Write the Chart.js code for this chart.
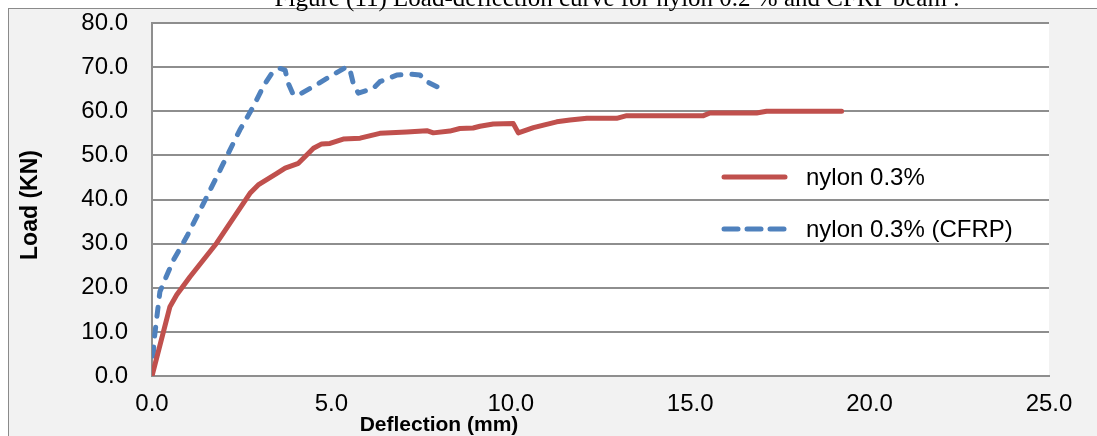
<!DOCTYPE html>
<html>
<head>
<meta charset="utf-8">
<script src="https://cdn.jsdelivr.net/npm/chart.js@4"></script>
<style>
    html, body { margin: 0; padding: 0; background: #fff; overflow: hidden; }
    #wrap { position: relative; width: 1097px; height: 436px; }
    #figTitle {
        position: absolute; left: 617px; top: -15px; transform: translateX(-50%);
        font: 25px 'Liberation Serif', 'Times New Roman', serif; line-height: 25px;
        white-space: nowrap; color: #000; z-index: 2;
    }
    canvas { display: block; }
</style>
</head>
<body>
<div id="wrap">
    <div id="figTitle">Figure (11) Load-deflection curve for nylon 0.2 % and CFRP beam .</div>
    <canvas id="chart" width="1097" height="436"></canvas>
</div>
<script>
// ── Data ───────────────────────────────────────────────────────────────────

const seriesNames = ['nylon 0.3%', 'nylon 0.3% (CFRP)'];

const deflRed = [0, 0.5, 0.69, 1.06, 1.8, 2.73, 2.96, 3.48, 3.71, 4.08, 4.5, 4.73, 4.96, 5.33, 5.8,
                 6.35, 7.1, 7.66, 7.84, 8.3, 8.58, 8.95, 9.14, 9.51, 10.07, 10.21, 10.63, 11.28, 11.65,
                 12.12, 12.95, 13.23, 15.37, 15.55, 16.85, 17.13, 19.22];
const loadRed = [0, 15.7, 18.4, 22.5, 30.1, 41.4, 43.3, 45.9, 47.1, 48.2, 51.6, 52.6, 52.7, 53.7, 53.9,
                 55.0, 55.3, 55.6, 55.1, 55.5, 56.1, 56.2, 56.6, 57.1, 57.2, 55.1, 56.3, 57.6, 58.0,
                 58.4, 58.4, 59.0, 59.0, 59.6, 59.6, 60.0, 60.0];

const deflBlue = [0, 0.06, 0.22, 0.36, 0.6, 0.97, 1.39, 1.9, 2.17, 2.45, 2.82, 3.1, 3.34, 3.57, 3.71,
                  3.8, 3.94, 4.17, 4.5, 5.05, 5.43, 5.52, 5.61, 5.75, 6.17, 6.35, 6.82, 7.19, 7.47,
                  7.66, 8.03];
const loadBlue = [0, 8.2, 19.1, 21.8, 26.3, 31.6, 38.4, 46.7, 51.2, 55.8, 61.0, 65.6, 68.6, 69.7, 69.3,
                  66.3, 63.7, 64.1, 65.6, 68.3, 70.1, 69.3, 66.3, 64.1, 65.2, 66.7, 68.2, 68.4, 68.2,
                  66.7, 65.2];

const xTicks = [0, 5, 10, 15, 20, 25];
const yTicks = [0, 10, 20, 30, 40, 50, 60, 70, 80];

const RED  = '#C0504D';
const BLUE = '#4F81BD';
const GRID = '#8e8e8e';

const toPoints = (xs, ys) => xs.map((x, i) => ({ x, y: ys[i] }));

// ── Plugins: frame, axis titles, legend ───────────────────────────────────

const framePlugin = {
    id: 'frame',
    beforeDraw(chart) {
        const { ctx, chartArea: a } = chart;
        ctx.save();
        ctx.fillStyle = '#fff';
        ctx.fillRect(0, 0, chart.width, chart.height);
        ctx.fillStyle = '#f2f2f2';
        ctx.fillRect(8, 8, chart.width, chart.height);
        ctx.strokeStyle = '#8a8a8a';
        ctx.lineWidth = 1;
        ctx.strokeRect(8.5, 8.5, chart.width + 10, chart.height + 10);
        ctx.fillStyle = '#fff';
        ctx.fillRect(a.left, a.top, a.right - a.left, a.bottom - a.top);
        ctx.restore();
    },
};

const labelsPlugin = {
    id: 'labels',
    afterDraw(chart) {
        const { ctx } = chart;
        ctx.save();
        ctx.fillStyle = '#000';
        ctx.font = "bold 21px 'Liberation Sans', Arial, sans-serif";
        ctx.textAlign = 'center';
        ctx.textBaseline = 'alphabetic';
        ctx.fillText('Deflection (mm)', 439, 431);

        ctx.translate(37, 205);
        ctx.rotate(-Math.PI / 2);
        ctx.font = "bold 23px 'Liberation Sans', Arial, sans-serif";
        ctx.fillText('Load (KN)', 0, 0);
        ctx.restore();

        // legend
        ctx.save();
        ctx.lineWidth = 5;
        ctx.lineCap = 'round';
        ctx.strokeStyle = RED;
        ctx.beginPath();
        ctx.moveTo(724, 177);
        ctx.lineTo(785, 177);
        ctx.stroke();
        ctx.strokeStyle = BLUE;
        for (let i = 0; i < 3; i++) {
            ctx.beginPath();
            ctx.moveTo(724 + i * 23, 229);
            ctx.lineTo(738 + i * 23, 229);
            ctx.stroke();
        }
        ctx.fillStyle = '#000';
        ctx.font = "24px 'Liberation Sans', Arial, sans-serif";
        ctx.textAlign = 'left';
        ctx.textBaseline = 'middle';
        ctx.fillText(seriesNames[0], 806, 178);
        ctx.fillText(seriesNames[1], 806, 230);
        ctx.restore();
    },
};

// ── Chart ──────────────────────────────────────────────────────────────────

new Chart(document.getElementById('chart').getContext('2d'), {
    type: 'scatter',
    data: {
        datasets: [
            {
                label: seriesNames[0],
                data: toPoints(deflRed, loadRed),
                showLine: true,
                borderColor: RED,
                borderWidth: 5,
                pointRadius: 0,
                tension: 0,
                borderJoinStyle: 'round',
                borderCapStyle: 'round',
            },
            {
                label: seriesNames[1],
                data: toPoints(deflBlue, loadBlue),
                showLine: true,
                borderColor: BLUE,
                borderWidth: 5,
                borderDash: [9, 11],
                pointRadius: 0,
                tension: 0,
                borderJoinStyle: 'round',
                borderCapStyle: 'round',
            },
        ],
    },
    options: {
        responsive: false,
        animation: false,
        layout: { padding: { left: 0, right: 48, top: 23, bottom: 0 } },
        plugins: {
            legend: { display: false },
            tooltip: { enabled: false },
        },
        scales: {
            x: {
                type: 'linear',
                min: xTicks[0],
                max: xTicks[xTicks.length - 1],
                afterBuildTicks: s => { s.ticks = xTicks.map(v => ({ value: v })); },
                afterFit: s => { s.height = 60; s.paddingRight = 0; },
                grid: { display: false, drawTicks: false },
                border: { display: true, color: GRID, width: 2 },
                ticks: {
                    color: '#000',
                    padding: 14,
                    maxRotation: 0,
                    font: { family: "'Liberation Sans', Arial, sans-serif", size: 24 },
                    callback: v => Number(v).toFixed(1),
                },
            },
            y: {
                min: yTicks[0],
                max: yTicks[yTicks.length - 1],
                afterBuildTicks: s => { s.ticks = yTicks.map(v => ({ value: v })); },
                afterFit: s => { s.width = 152; s.paddingTop = 0; s.paddingBottom = 0; },
                grid: { color: GRID, lineWidth: 2, drawTicks: false },
                border: { display: true, color: GRID, width: 2 },
                ticks: {
                    color: '#000',
                    padding: 24,
                    font: { family: "'Liberation Sans', Arial, sans-serif", size: 24 },
                    callback: v => Number(v).toFixed(1),
                },
            },
        },
    },
    plugins: [framePlugin, labelsPlugin],
});
</script>
</body>
</html>
